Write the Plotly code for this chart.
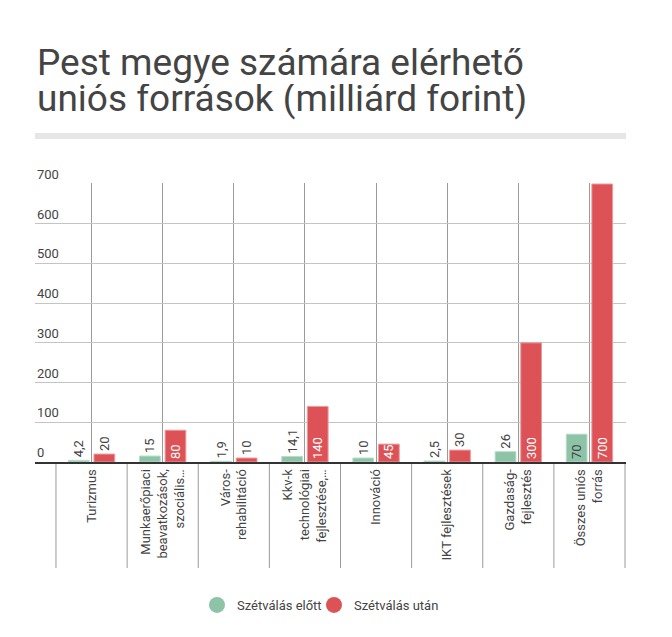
import plotly.graph_objects as go

categories = [
    "Turizmus",
    "Munkaerőpiaci<br>beavatkozások,<br>szociális…",
    "Város-<br>rehabilitáció",
    "Kkv-k<br>technológiai<br>fejlesztése,…",
    "Innováció",
    "IKT fejlesztések",
    "Gazdaság-<br>fejlesztés",
    "Összes uniós<br>forrás",
]
before = [4.2, 15, 1.9, 14.1, 10, 2.5, 26, 70]
after = [20, 80, 10, 140, 45, 30, 300, 700]
series_names = ["Szétválás előtt", "Szétválás után"]
y_ticks = [0, 100, 200, 300, 400, 500, 600, 700]
title_lines = ["Pest megye számára elérhető", "uniós források (milliárd forint)"]

GREEN = "#8dc3a7"
RED = "#dc5256"
TXT = "#444444"
FONT = "Roboto"

W, H = 672, 637
AXIS_Y = 462          # pixel row of the x axis line
PLOT_H = 279          # plot area height in px
PLOT_TOP = AXIS_Y - PLOT_H
PLOT_L, PLOT_R = 35, 626


def py(pix):
    """pixel row -> paper y"""
    return (AXIS_Y - pix) / PLOT_H


def px(pix):
    """pixel column -> paper x"""
    return (pix - PLOT_L) / (PLOT_R - PLOT_L)


def fmt(v):
    return f"{v:g}".replace(".", ",")


def positions(vals):
    return ["inside" if v >= 40 else "outside" for v in vals]


fig = go.Figure()
for name, vals, color, line_col, in_col in [
    (series_names[0], before, GREEN, "#b9dccb", TXT),
    (series_names[1], after, RED, "#ec9a9c", "white"),
]:
    fig.add_trace(go.Bar(
        x=categories, y=vals, name=name, showlegend=False,
        marker=dict(color=color, line=dict(color=line_col, width=1)),
        text=[fmt(v) for v in vals],
        textposition=positions(vals),
        textangle=-90,
        insidetextanchor="start",
        constraintext="none",
        insidetextfont=dict(family=FONT, size=13, color=in_col),
        outsidetextfont=dict(family=FONT, size=13, color=TXT),
        cliponaxis=False,
        hoverinfo="skip",
    ))

# legend markers (circles), each in its own legend box
for name, color, leg in zip(series_names, [GREEN, RED], ["legend", "legend2"]):
    fig.add_trace(go.Scatter(
        x=[None], y=[None], mode="markers", name=name, legend=leg,
        marker=dict(symbol="circle", size=16, color=color),
    ))

x_range = [-0.795, 7.514]

shapes = []
for i in range(len(categories) + 1):
    shapes.append(dict(
        type="line", xref="x", yref="paper",
        x0=i - 0.5, x1=i - 0.5, y0=0, y1=py(568),
        line=dict(color="#9a9a9a", width=1), layer="below",
    ))
shapes.append(dict(
    type="rect", xref="paper", yref="paper",
    x0=0, x1=1, y0=py(139), y1=py(133),
    fillcolor="#e6e6e6", line=dict(width=0), layer="above",
))

annotations = []
for t in y_ticks:
    annotations.append(dict(
        text=str(t), xref="paper", yref="y", x=0, y=t,
        xanchor="left", yanchor="bottom", showarrow=False, yshift=0,
        font=dict(family=FONT, size=13, color=TXT),
    ))
for line, base in zip(title_lines, [86, 122]):
    annotations.append(dict(
        text=line, xref="paper", yref="paper", x=0, y=py(base),
        xanchor="left", yanchor="bottom", height=36, valign="bottom",
        showarrow=False, font=dict(family=FONT, size=37, color=TXT),
    ))

legend_common = dict(
    orientation="h", xanchor="left", y=py(605), yanchor="middle",
    font=dict(family=FONT, size=13, color=TXT),
    itemsizing="trace", itemwidth=30, bgcolor="rgba(0,0,0,0)",
)

fig.update_layout(
    width=W, height=H,
    margin=dict(l=PLOT_L, r=W - PLOT_R, t=PLOT_TOP, b=H - AXIS_Y, autoexpand=False),
    paper_bgcolor="white", plot_bgcolor="white",
    font=dict(family=FONT, size=13, color=TXT),
    barmode="group", bargap=0.28, bargroupgap=0.19,
    showlegend=True,
    legend=dict(x=px(218 - 21), **legend_common),
    legend2=dict(x=px(335 - 21), **legend_common),
    xaxis=dict(
        type="category", categoryorder="array", categoryarray=categories,
        range=x_range, tickangle=-90, ticks="",
        showline=True, linecolor="#333333", linewidth=2,
        showgrid=True, gridcolor="#9a9a9a", gridwidth=1,
        tickfont=dict(family=FONT, size=13, color=TXT),
        fixedrange=True,
    ),
    yaxis=dict(
        range=[0, 700 * PLOT_H / 278], tickvals=y_ticks,
        showticklabels=False, ticks="",
        showgrid=True, gridcolor="#c4c4c4", gridwidth=1,
        zeroline=False, showline=False,
    ),
    shapes=shapes,
    annotations=annotations,
)

fig.write_html("out.html")
